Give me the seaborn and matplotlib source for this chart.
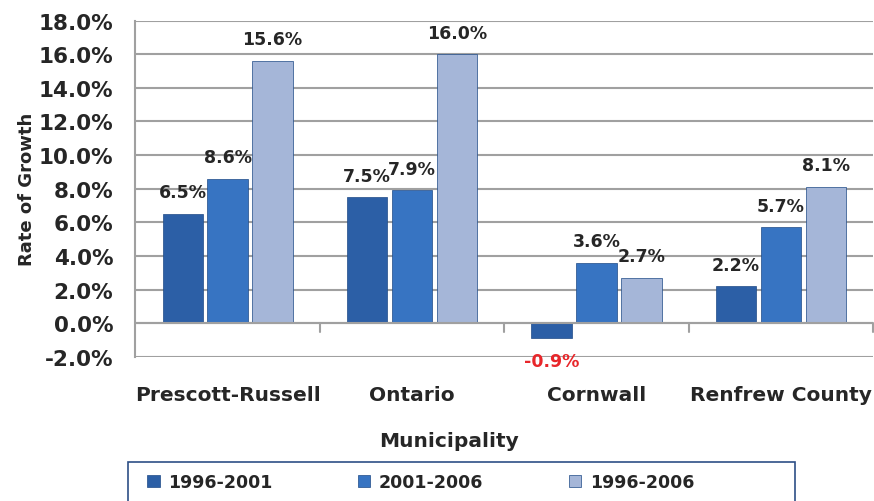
import pandas as pd
import matplotlib.pyplot as plt
import seaborn as sns
from matplotlib.patches import Rectangle
from matplotlib.ticker import FuncFormatter, FixedLocator

# data
municipalities = ["Prescott-Russell", "Ontario", "Cornwall", "Renfrew County"]
periods = ["1996-2001", "2001-2006", "1996-2006"]
growth_96_01 = [6.5, 7.5, -0.9, 2.2]
growth_01_06 = [8.6, 7.9, 3.6, 5.7]
growth_96_06 = [15.6, 16.0, 2.7, 8.1]
colors = ["#2c5fa6", "#3774c2", "#a5b6d8"]

df = pd.DataFrame({
    "Municipality": municipalities * 3,
    "Period": [p for p in periods for _ in municipalities],
    "Growth": growth_96_01 + growth_01_06 + growth_96_06,
})

sns.set_style("white")
plt.rcParams["font.family"] = ["DejaVu Sans"]
plt.rcParams["font.weight"] = "bold"

fig, ax = plt.subplots(figsize=(8.74, 5.02), dpi=100)
fig.subplots_adjust(left=0.155, right=0.999, top=0.957, bottom=0.287)

sns.barplot(data=df, x="Municipality", y="Growth", hue="Period",
            palette=colors, saturation=1, width=0.73, gap=0.1,
            edgecolor="#1e4a86", linewidth=0.5, ax=ax, legend=True)

ax.set_xlim(-0.5, 3.5)
ax.set_ylim(-2, 18)
ax.yaxis.set_major_locator(FixedLocator(range(-2, 19, 2)))
ax.yaxis.set_major_formatter(FuncFormatter(lambda v, p: f"{v:.1f}%"))
ax.grid(axis="y", color="#a0a0a0", linewidth=1.5)
ax.set_axisbelow(True)
ax.axhline(0, color="#a0a0a0", linewidth=1.5, zorder=1)
for side in ["top", "right", "bottom"]:
    ax.spines[side].set_visible(False)
ax.spines["left"].set_color("#a0a0a0")
ax.spines["left"].set_linewidth(1.5)

ax.tick_params(axis="y", labelsize=15.5, length=0, pad=16)
ax.tick_params(axis="x", labelsize=14.5, length=0, pad=20)
ax.set_ylabel("Rate of Growth", fontsize=13, fontweight="bold", labelpad=2)
ax.set_xlabel("Municipality", fontsize=14.5, fontweight="bold", labelpad=20,
              x=0.425)

for c in ax.containers:
    for bar in c:
        h = bar.get_height()
        x = bar.get_x() + bar.get_width() / 2
        if h < 0:
            ax.text(x, h - 0.8, f"{h:.1f}%", ha="center", va="top",
                    color="#e8262a", fontsize=12.5, fontweight="bold")
        else:
            ax.text(x, h + 0.75, f"{h:.1f}%", ha="center", va="bottom",
                    color="#262626", fontsize=12.5, fontweight="bold")

# small ticks between groups on the zero line
for xt in [0.5, 1.5, 2.5, 3.5]:
    ax.plot([xt, xt], [0, -0.5], color="#a0a0a0", linewidth=1.5, clip_on=False)

leg = ax.legend(loc="center left", bbox_to_anchor=(0.0163, -0.372, 0.741, 0),
                mode="expand", ncol=3, frameon=False,
                fontsize=12.5, handlelength=0.7, handleheight=0.7,
                handletextpad=0.5, borderpad=0, borderaxespad=0)
for t in leg.get_texts():
    t.set_fontweight("bold")

# legend border box (runs off the bottom edge as in the original)
fig.patches.append(Rectangle((128 / 874, -0.02), 667 / 874, 0.02 + 39 / 502,
                             transform=fig.transFigure, fill=False,
                             edgecolor="#2d4f86", linewidth=1.2))

fig.savefig("out.png", dpi=100)
